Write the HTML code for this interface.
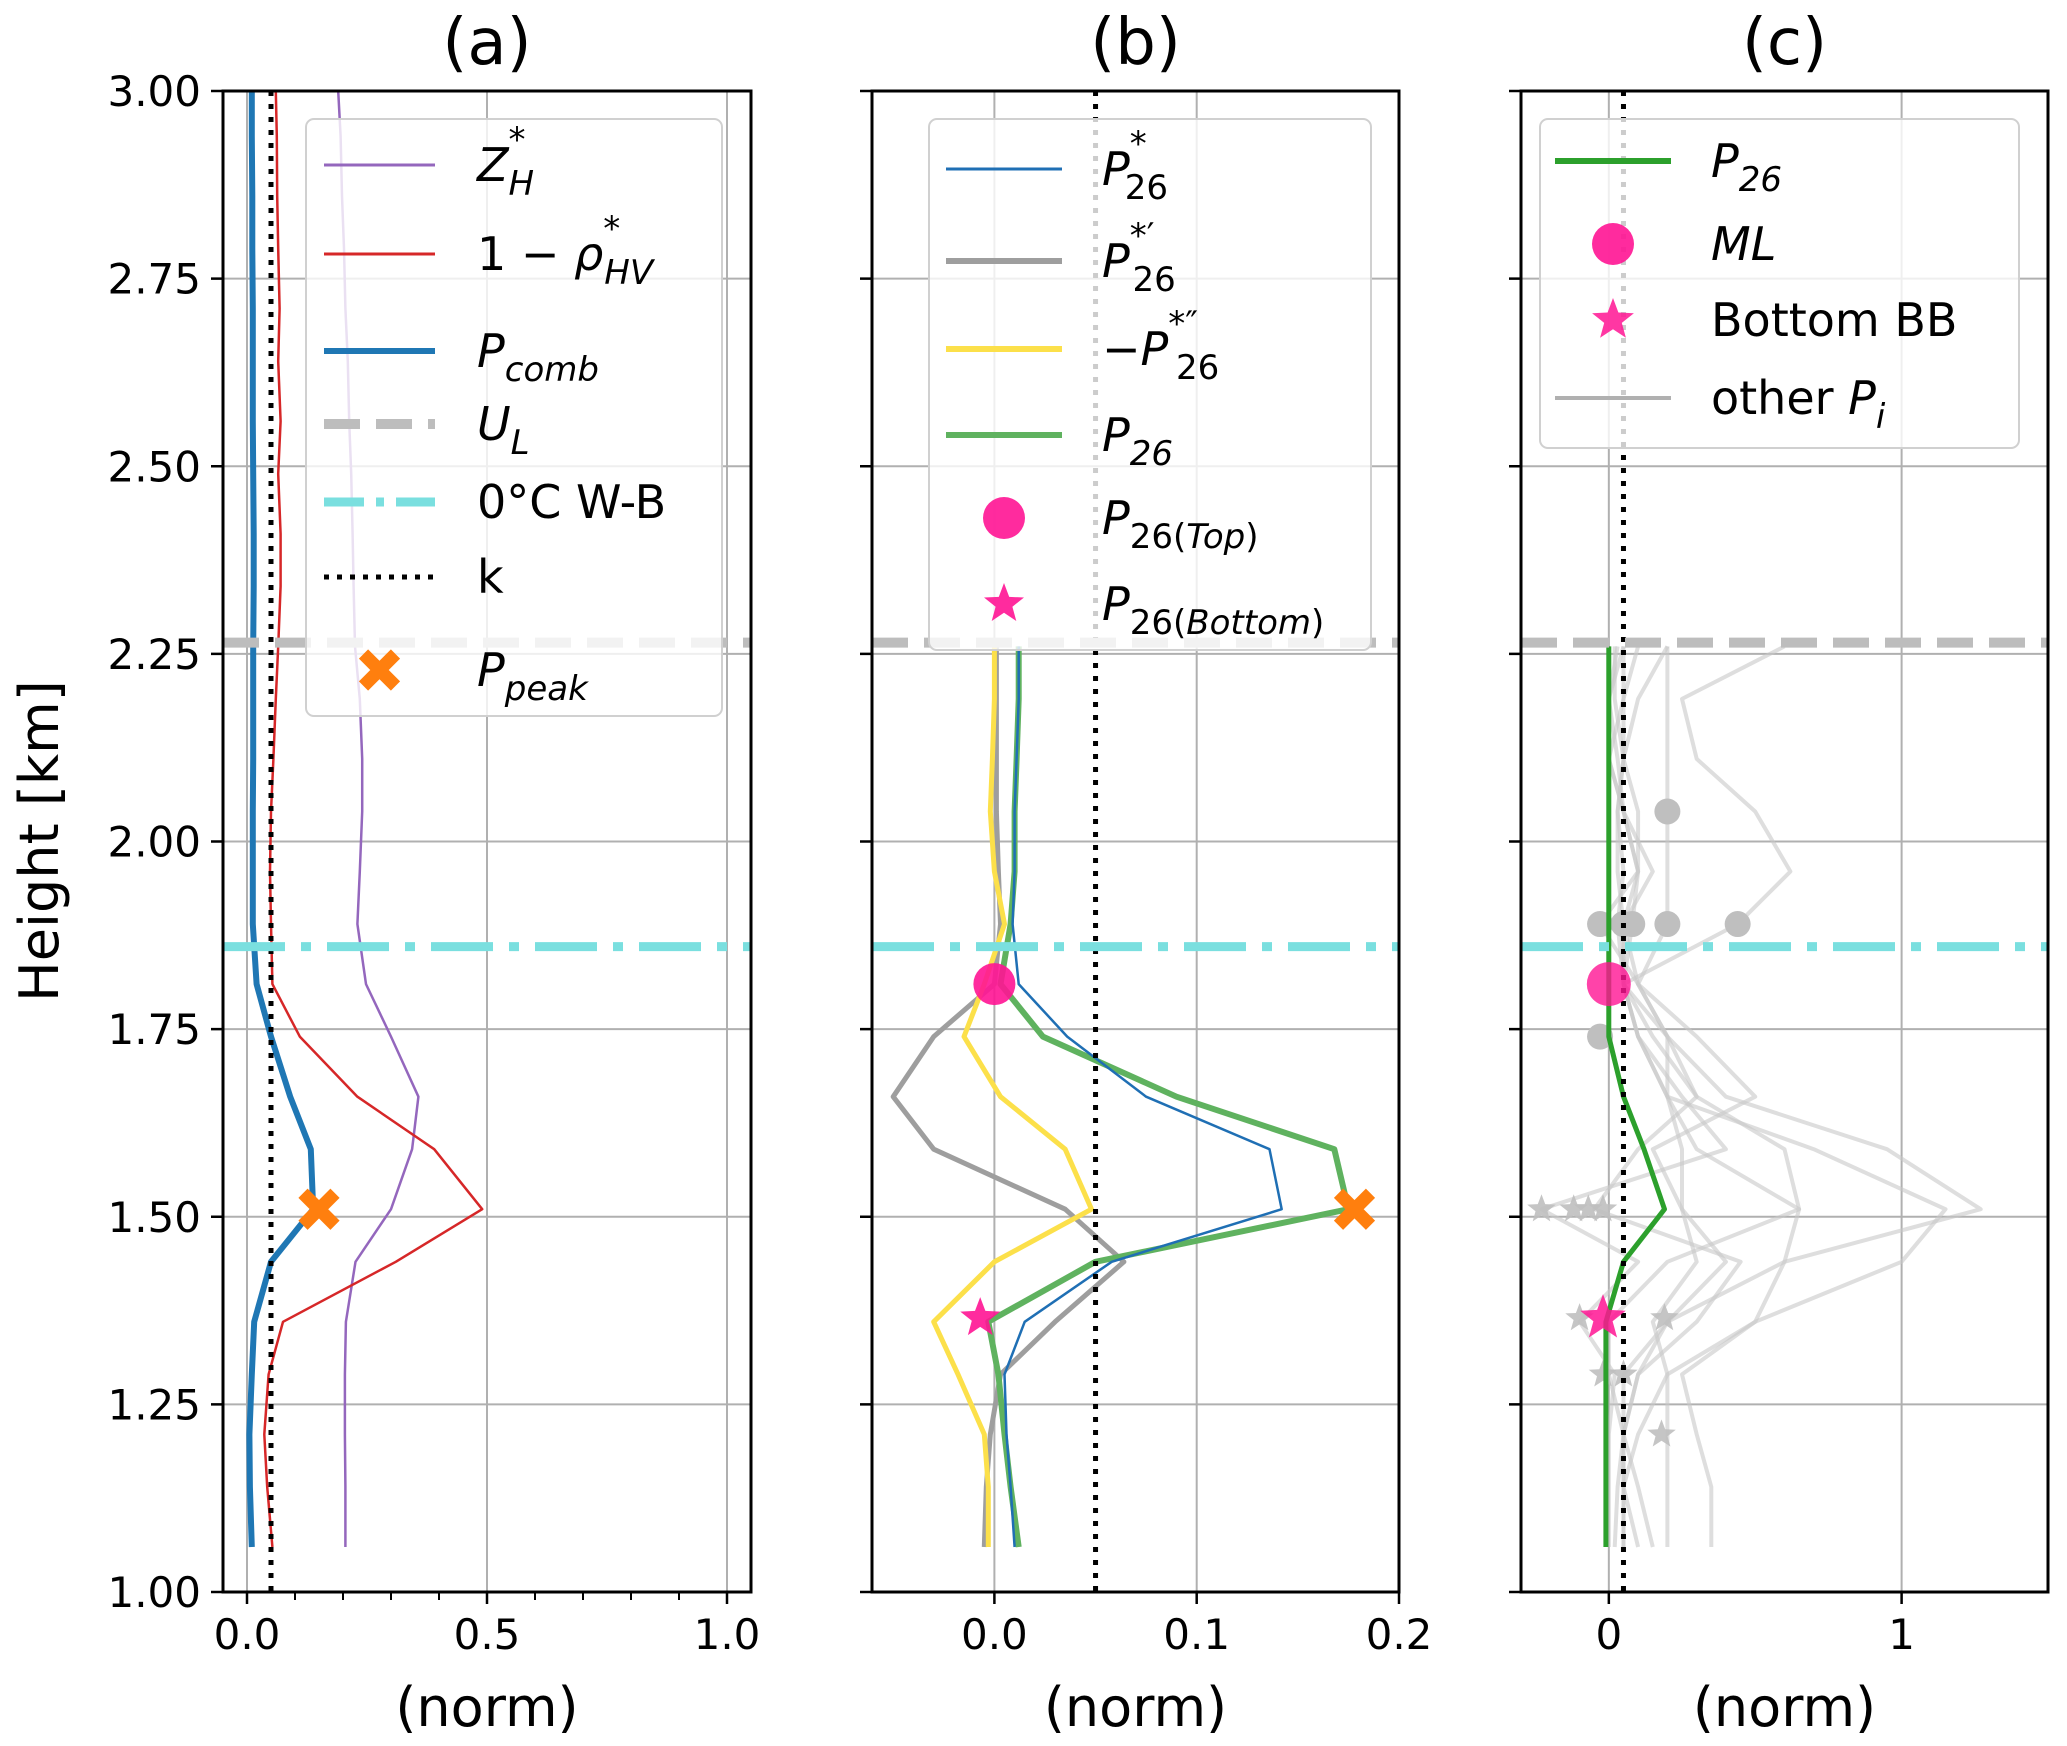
<!DOCTYPE html>
<html><head><meta charset="utf-8">
<style>body{margin:0;background:#fff}svg{display:block}text{font-family:"DejaVu Sans","Liberation Sans",sans-serif;fill:#000}</style>
</head><body>
<svg id="fig" width="2067" height="1746" viewBox="0 0 2067 1746" xmlns="http://www.w3.org/2000/svg"></svg>
<script>
// ---- data ----
const heights=[1.06,1.14,1.21,1.29,1.36,1.44,1.51,1.59,1.66,1.74,1.81,1.89,1.96,2.04,2.11,2.19,2.26];
const heightsUpper=[2.34,2.41,2.49,2.56,2.64,2.71,2.79,2.86,2.94,3.0];
const zhA=[0.205,0.205,0.204,0.204,0.206,0.226,0.30,0.344,0.357,0.30,0.248,0.23,0.235,0.24,0.24,0.235,0.225];
const zhAUp=[0.222,0.22,0.217,0.213,0.21,0.205,0.202,0.198,0.195,0.19];
const rhoA=[0.053,0.042,0.036,0.045,0.075,0.31,0.49,0.39,0.23,0.11,0.053,0.05,0.048,0.05,0.055,0.06,0.065];
const rhoAUp=[0.07,0.07,0.065,0.07,0.065,0.068,0.065,0.063,0.062,0.06];
const pcombA=[0.01,0.006,0.005,0.01,0.015,0.05,0.138,0.133,0.09,0.05,0.02,0.012,0.012,0.012,0.013,0.013,0.013];
const pcombAUp=[0.014,0.014,0.013,0.012,0.012,0.012,0.011,0.011,0.01,0.01];
const kValue=0.05, ulHeight=2.265, wbHeight=1.86;
const peakA=[0.15,1.51];
const p26sB=[0.010,0.008,0.006,0.005,0.015,0.058,0.142,0.136,0.075,0.036,0.012,0.009,0.010,0.010,0.011,0.012,0.012];
const p26pB=[-0.005,-0.004,-0.002,0.003,0.03,0.064,0.035,-0.03,-0.05,-0.03,0.0,0.003,0.002,0.001,0.001,0.001,0.001];
const p26ppB=[-0.003,-0.003,-0.005,-0.018,-0.03,0.0,0.048,0.035,0.003,-0.015,-0.005,0.005,0.0,-0.002,-0.001,0.0,0.0];
const p26B=[0.012,0.008,0.005,0.002,-0.003,0.05,0.175,0.168,0.09,0.024,0.003,0.008,0.010,0.010,0.011,0.012,0.012];
const topB=[0.0,1.81], botB=[-0.007,1.365], peakB=[0.178,1.51];
const p26C=[-0.01,-0.01,-0.01,-0.01,-0.01,0.05,0.19,0.12,0.05,0.0,0.0,0.0,0.0,0.0,0.0,0.0,0.0];
const mlC=[0.0,1.81], bbC=[-0.02,1.365];
const otherP=[
 [0.02,0.03,0.05,0.1,0.2,0.6,1.27,0.95,0.4,0.2,0.1,0.05,0.03,0.03,0.05,0.1,0.2],
 [0.05,0.05,0.1,0.2,0.5,1.0,1.15,0.7,0.2,0.1,0.05,0.03,0.05,0.03,0.05,0.02,0.02],
 [0.35,0.35,0.3,0.25,0.5,0.6,0.65,0.3,0.2,0.1,0.05,0.44,0.62,0.5,0.3,0.25,0.6],
 [0.2,0.2,0.2,0.2,0.15,0.3,0.25,0.25,0.2,0.2,0.1,0.2,0.2,0.2,0.2,0.2,0.2],
 [0.1,0.05,0.05,0.0,0.0,0.2,0.65,0.6,0.3,0.15,0.05,0.05,0.1,0.05,0.03,0.0,0.05],
 [0.15,0.1,0.05,0.05,0.2,0.4,0.25,0.15,0.5,0.3,0.1,-0.03,0.1,0.05,0.0,0.05,0.1],
 [0.05,0.05,0.05,0.1,0.3,0.45,-0.05,0.1,0.3,0.2,0.05,0.08,0.1,0.1,0.05,0.05,0.05],
 [0.0,0.0,0.0,0.02,-0.1,0.1,-0.23,0.4,0.25,0.1,0.05,0.05,0.15,0.05,0.0,0.0,0.03]
];
const grayDotsX=[0.2,-0.03,0.05,0.08,0.2,0.44,-0.03];
const grayDotsY=[2.04,1.89,1.89,1.89,1.89,1.89,1.74];
const grayStarsX=[-0.23,-0.12,-0.07,-0.02,-0.1,0.19,-0.02,0.05,0.18];
const grayStarsY=[1.51,1.51,1.51,1.51,1.365,1.365,1.29,1.29,1.21];
const yTicks=[1.00,1.25,1.50,1.75,2.00,2.25,2.50,2.75,3.00];
const xTicksA=[0.0,0.5,1.0], xTicksB=[0.0,0.1,0.2], xTicksC=[0,1];
const xLabA=["0.0","0.5","1.0"], xLabB=["0.0","0.1","0.2"], xLabC=["0","1"];

// ---- layout ----
const NS="http://www.w3.org/2000/svg";
const svg=document.getElementById('fig');
const Y0=1592,Y1=91;
const yS=v=>Y0+(v-1)*(Y1-Y0)/2;
const panels=[
 {id:'a',l:223,r:751,x0:-0.05,x1:1.05},
 {id:'b',l:872,r:1399,x0:-0.0605,x1:0.2},
 {id:'c',l:1521,r:2048,x0:-0.30,x1:1.50}];
function mk(tag,at,parent){const e=document.createElementNS(NS,tag);for(const k in at)e.setAttribute(k,at[k]);(parent||svg).appendChild(e);return e;}
function xs(p){return v=>p.l+(v-p.x0)/(p.x1-p.x0)*(p.r-p.l);}
function poly(p,xv,yv,st,name){const X=xs(p);const pts=xv.map((v,i)=>X(v).toFixed(1)+','+yS(yv[i]).toFixed(1)).join(' ');
 const e=mk('polyline',Object.assign({points:pts,fill:'none','stroke-linejoin':'round'},st));
 
 return e;}
function star(cx,cy,r,fill,op,name){let pts=[];for(let i=0;i<10;i++){const a=-Math.PI/2+i*Math.PI/5;const rr=i%2?r*0.42:r;pts.push((cx+rr*Math.cos(a)).toFixed(1)+','+(cy+rr*Math.sin(a)).toFixed(1));}
 const e=mk('polygon',{points:pts.join(' '),fill:fill,opacity:op});
 
 return e;}
function xmark(cx,cy,name){const g=mk('g',{});
 
 mk('path',{d:`M${cx-16},${cy-16}L${cx+16},${cy+16}M${cx-16},${cy+16}L${cx+16},${cy-16}`,stroke:'#ff7f0e','stroke-width':13},g);}

panels.forEach((p,pi)=>{
 const X=xs(p);
 const g=mk('g',{});
 // grid
 const xt=[xTicksA,xTicksB,xTicksC][pi], xl=[xLabA,xLabB,xLabC][pi];
 yTicks.forEach(t=>{const e=mk('line',{x1:p.l,x2:p.r,y1:yS(t),y2:yS(t),stroke:'#b0b0b0','stroke-width':2});
  
  });
 xt.forEach(t=>{const e=mk('line',{x1:X(t),x2:X(t),y1:Y1,y2:Y0,stroke:'#b0b0b0','stroke-width':2});
  
  });
 // ticks
 yTicks.forEach(t=>{mk('line',{x1:p.l-12,x2:p.l,y1:yS(t),y2:yS(t),stroke:'#000','stroke-width':2.5});
  if(pi===0){const e=mk('text',{x:p.l-22,y:yS(t)+15,'text-anchor':'end','font-size':42});e.textContent=t.toFixed(2);
   
   }});
 xt.forEach((t,i)=>{mk('line',{x1:X(t),x2:X(t),y1:Y0,y2:Y0+12,stroke:'#000','stroke-width':2.5});
  const e=mk('text',{x:X(t),y:Y0+57,'text-anchor':'middle','font-size':42});e.textContent=xl[i];
  
  });
 if(pi===0){for(let v=0.1;v<1.05;v+=0.1){mk('line',{x1:X(v),x2:X(v),y1:Y0,y2:Y0+8,stroke:'#000','stroke-width':2});}}
 const xlab=mk('text',{x:(p.l+p.r)/2,y:1726,'text-anchor':'middle','font-size':54});xlab.textContent='(norm)';
 
 
 const ti=mk('text',{x:(p.l+p.r)/2,y:64,'text-anchor':'middle','font-size':64});ti.textContent='('+p.id+')';
 
 
 p.X=X;
});
const [A,B,C]=panels;
// panel a series
const hA=heights.concat(heightsUpper);
poly(A,zhA.concat(zhAUp),hA,{stroke:'#9467bd','stroke-width':2.5},'zh-line');
poly(A,rhoA.concat(rhoAUp),hA,{stroke:'#d62728','stroke-width':2.5},'rhohv-line');
poly(A,pcombA.concat(pcombAUp),hA,{stroke:'#1f77b4','stroke-width':6},'pcomb-line');
// panel b series
poly(B,p26pB,heights,{stroke:'#9e9e9e','stroke-width':5},'p26-first-derivative-line');
poly(B,p26ppB,heights,{stroke:'#fce04a','stroke-width':5},'p26-second-derivative-line');
poly(B,p26B,heights,{stroke:'#5fb25f','stroke-width':6},'p26-line');
poly(B,p26sB,heights,{stroke:'#1f6fb4','stroke-width':2.5},'p26-star-line');
// panel c series
otherP.forEach((s,i)=>poly(C,s,heights,{stroke:'#c8c8c8','stroke-width':4,opacity:0.6},'other-pi-line-'+i));
grayDotsX.forEach((v,i)=>{const e=mk('ellipse',{cx:C.X(v),cy:yS(grayDotsY[i]),rx:13,ry:13,fill:'#bfbfbf'});
 
 });
grayStarsX.forEach((v,i)=>star(C.X(v),yS(grayStarsY[i]),15,'#bfbfbf',0.9,'other-pi-bb-star'));
poly(C,p26C,heights,{stroke:'#2ca02c','stroke-width':5},'p26-line-c');
// reference lines
panels.forEach(p=>{
 const k=mk('line',{x1:p.X(kValue),x2:p.X(kValue),y1:Y1,y2:Y0,stroke:'#000','stroke-width':5,'stroke-dasharray':'5,8'});
 
 
 const u=mk('line',{x1:p.l,x2:p.r,y1:yS(ulHeight),y2:yS(ulHeight),stroke:'#bdbdbd','stroke-width':10,'stroke-dasharray':'36,16'});
 
 
 const w=mk('line',{x1:p.l,x2:p.r,y1:yS(wbHeight),y2:yS(wbHeight),stroke:'#7adfdf','stroke-width':9,'stroke-dasharray':'62,16,10,16'});
 
 
});
// markers
xmark(A.X(peakA[0]),yS(peakA[1]),'ppeak-marker-a');
xmark(B.X(peakB[0]),yS(peakB[1]),'ppeak-marker-b');
let e=mk('circle',{cx:B.X(topB[0]),cy:yS(topB[1]),r:21,fill:'#ff1493',opacity:0.9});


star(B.X(botB[0]),yS(botB[1]),21,'#ff1493',0.9,'p26-bottom-marker');
e=mk('circle',{cx:C.X(mlC[0]),cy:yS(mlC[1]),r:22,fill:'#ff1493',opacity:0.8});


star(C.X(bbC[0]),yS(bbC[1]),24,'#ff1493',0.85,'bottom-bb-marker');
// frames
panels.forEach(p=>{const f=mk('rect',{x:p.l,y:Y1,width:p.r-p.l,height:Y0-Y1,fill:'none',stroke:'#000','stroke-width':3});
 
 });
// y label
e=mk('text',{x:58,y:841,'text-anchor':'middle','font-size':54,transform:'rotate(-90 58 841)'});e.textContent='Height [km]';


// legends
function legendBox(x,y,w,h,name){const r=mk('rect',{x:x,y:y,width:w,height:h,rx:8,fill:'#fff','fill-opacity':0.8,stroke:'#d0d0d0','stroke-width':2});
 
 }
function entry(x1,x2,tx,y,kind,st,html,name){
 const g=mk('g',{});
 
 if(kind==='line')mk('line',Object.assign({x1:x1,x2:x2,y1:y,y2:y},st),g);
 if(kind==='circle')mk('circle',{cx:(x1+x2)/2,cy:y,r:21,fill:'#ff1493',opacity:0.9},g);
 if(kind==='x'){const cx=(x1+x2)/2;mk('path',{d:`M${cx-16},${y-16}L${cx+16},${y+16}M${cx-16},${y+16}L${cx+16},${y-16}`,stroke:'#ff7f0e','stroke-width':13},g);}
 const t=mk('text',{x:tx,y:y+16,'font-size':46},g);t.innerHTML=html;
 return g;}
const sub=s=>`<tspan font-size="34" dy="14" font-style="italic">${s}</tspan>`;
const sup=s=>`<tspan font-size="34" dy="-30">${s}</tspan>`;
legendBox(306,119,416,597,'legend-a');
const lxa1=324,lxa2=435,ta=477;
entry(lxa1,lxa2,ta,165,'line',{stroke:'#9467bd','stroke-width':3},`<tspan font-style="italic">Z</tspan>${sup('*')}<tspan dx="-17" dy="44" font-size="34" font-style="italic">H</tspan>`,'legend-zh');
entry(lxa1,lxa2,ta,254,'line',{stroke:'#d62728','stroke-width':3},`1 − <tspan font-style="italic">ρ</tspan>${sup('*')}<tspan dx="-16" dy="44" font-size="34" font-style="italic">HV</tspan>`,'legend-rhohv');
entry(lxa1,lxa2,ta,351,'line',{stroke:'#1f77b4','stroke-width':6},`<tspan font-style="italic">P</tspan>${sub('comb')}`,'legend-pcomb');
entry(lxa1,lxa2,ta,424,'line',{stroke:'#bdbdbd','stroke-width':10,'stroke-dasharray':'36,16'},`<tspan font-style="italic">U</tspan>${sub('L')}`,'legend-ul');
entry(lxa1,lxa2,ta,502,'line',{stroke:'#7adfdf','stroke-width':9,'stroke-dasharray':'40,12,8,12'},`0°C W-B`,'legend-wb');
entry(lxa1,lxa2,ta,577,'line',{stroke:'#000','stroke-width':5,'stroke-dasharray':'5,8'},`k`,'legend-k');
entry(lxa1,lxa2,ta,670,'x',{},`<tspan font-style="italic">P</tspan>${sub('peak')}`,'legend-ppeak');

legendBox(929,119,442,531,'legend-b');
const lb1=946,lb2=1062,tb=1102;
const p26=(s)=>`<tspan font-style="italic">P</tspan>${s}<tspan dx="-22" dy="44" font-size="34">26</tspan>`;
entry(lb1,lb2,tb,169,'line',{stroke:'#1f6fb4','stroke-width':3},p26(sup('*')),'legend-p26-star');
entry(lb1,lb2,tb,261,'line',{stroke:'#9e9e9e','stroke-width':6},p26(sup('*′')),'legend-p26-first');
entry(lb1,lb2,tb,349,'line',{stroke:'#fce04a','stroke-width':6},`−`+p26(sup('*″')),'legend-p26-second');
entry(lb1,lb2,tb,435,'line',{stroke:'#5fb25f','stroke-width':6},`<tspan font-style="italic">P</tspan>${sub('26')}`,'legend-p26');
entry(lb1,lb2,tb,518,'circle',{},`<tspan font-style="italic">P</tspan><tspan font-size="34" dy="14">26(<tspan font-style="italic">Top</tspan>)</tspan>`,'legend-p26-top');
const gs=entry(lb1,lb2,tb,604,'none',{},`<tspan font-style="italic">P</tspan><tspan font-size="34" dy="14">26(<tspan font-style="italic">Bottom</tspan>)</tspan>`,'legend-p26-bottom');
star((lb1+lb2)/2,604,21,'#ff1493',0.9,'legend-star-b');

legendBox(1540,119,479,329,'legend-c');
const lc1=1555,lc2=1671,tc=1711;
entry(lc1,lc2,tc,161,'line',{stroke:'#2ca02c','stroke-width':6},`<tspan font-style="italic">P</tspan>${sub('26')}`,'legend-p26-c');
entry(lc1,lc2,tc,244,'circle',{},`<tspan font-style="italic">ML</tspan>`,'legend-ml');
entry(lc1,lc2,tc,320,'none',{},`Bottom BB`,'legend-bottom-bb');
star((lc1+lc2)/2,320,22,'#ff1493',0.85,'legend-star-c');
entry(lc1,lc2,tc,398,'line',{stroke:'#b0b0b0','stroke-width':4},`other <tspan font-style="italic">P</tspan>${sub('i')}`,'legend-other-pi');
</script>
</body></html>
